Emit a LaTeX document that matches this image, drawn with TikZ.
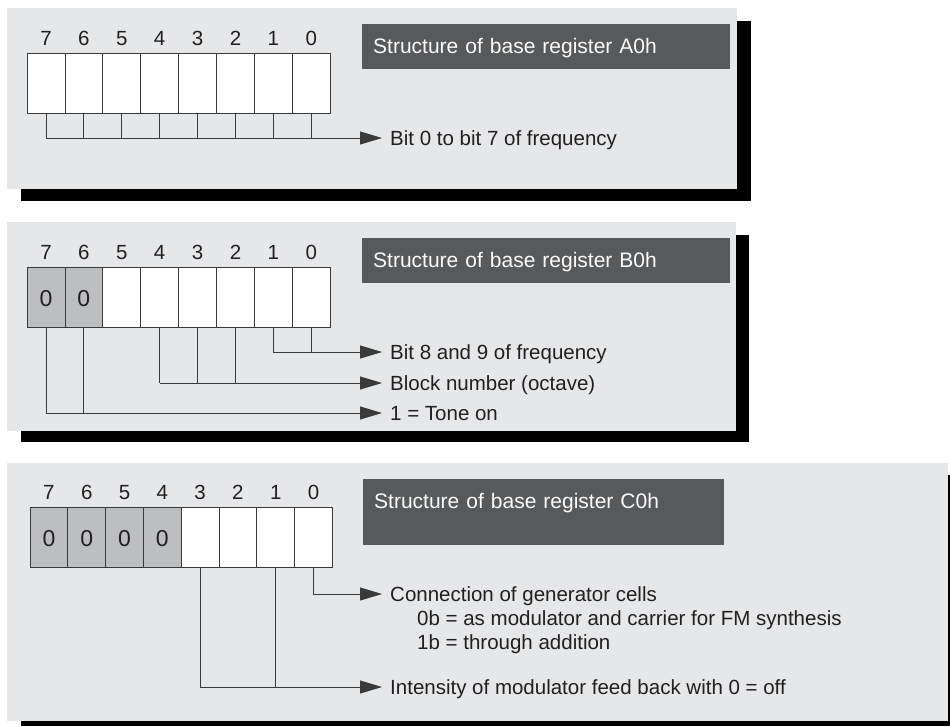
\documentclass[tikz,border=0pt]{standalone}
\usepackage{fontspec}
\setmainfont{Liberation Sans}
\usetikzlibrary{arrows.meta,positioning}
\definecolor{panel}{HTML}{E6E7E8}
\definecolor{titlebg}{HTML}{58595B}
\definecolor{zerocell}{HTML}{BCBEC0}
\definecolor{wiregray}{HTML}{3A3A3A}
\definecolor{ink}{HTML}{231F20}

\begin{document}
\begin{tikzpicture}[x=1pt, y=-1pt,
  font=\fontsize{20.5}{24}\selectfont, text=ink,
  regtitle/.style={fill=titlebg, text=white!85!panel, anchor=north west, inner xsep=11pt, inner ysep=0pt, align=left, text height=29pt, font=\fontsize{21}{25}\selectfont},
  cell/.style={draw=wiregray, line width=0.8pt, fill=white, anchor=north west, minimum width=37.9pt, minimum height=60pt, inner sep=0pt, outer sep=0pt},
  zero/.style={cell, fill=zerocell, font=\fontsize{23}{26}\selectfont, text height=19pt, text depth=0pt},
  bitno/.style={inner sep=0pt},
  lbl/.style={anchor=west, inner xsep=8pt, inner ysep=0pt, text height=15pt, text depth=0pt},
  wire/.style={draw=wiregray, line width=0.9pt},
  arr/.style={wire, -{Triangle[length=22pt, width=13pt]}}
]
  \useasboundingbox (0,0) rectangle (950,726);

  % Register A0h
  \fill[black] (21,21) rectangle (751,201);
  \fill[panel] (7,8) rectangle (737,189);
  \node[regtitle, text width=346pt, text depth=16pt] (titleA) at (362,24) {Structure of base register A0h};
  \foreach \b in {7,...,0} {
    \node[cell] (a\b) at ({27+(7-\b)*37.9}, 53) {};
    \node[bitno, above=7pt of a\b] {\b};
  }
  \node[lbl] (freqA) at (382,138) {Bit 0 to bit 7 of frequency};
  \foreach \b in {7,...,0}
    \draw[wire] (a\b.south) -- (a\b.south |- freqA.west);
  \draw[arr] (a7.south |- freqA.west) -- (freqA.west);

  % Register B0h
  \fill[black] (21,235) rectangle (749,442);
  \fill[panel] (7,222) rectangle (736,431);
  \node[regtitle, text width=346pt, text depth=16pt] (titleB) at (362,238) {Structure of base register B0h};
  \foreach \b/\kind/\v in {7/zero/0, 6/zero/0, 5/cell/{}, 4/cell/{}, 3/cell/{}, 2/cell/{}, 1/cell/{}, 0/cell/{}} {
    \node[\kind] (b\b) at ({27+(7-\b)*37.9}, 267) {\v};
    \node[bitno, above=7pt of b\b] {\b};
  }
  \node[lbl] (freqB) at (382,352) {Bit 8 and 9 of frequency};
  \node[lbl] (block) at (382,383) {Block number (octave)};
  \node[lbl] (tone) at (382,413) {1 = Tone on};
  \foreach \b in {1,0}
    \draw[wire] (b\b.south) -- (b\b.south |- freqB.west);
  \foreach \b in {4,3,2}
    \draw[wire] (b\b.south) -- (b\b.south |- block.west);
  \foreach \b in {7,6}
    \draw[wire] (b\b.south) -- (b\b.south |- tone.west);
  \draw[arr] (b1.south |- freqB.west) -- (freqB.west);
  \draw[arr] (b4.south |- block.west) -- (block.west);
  \draw[arr] (b7.south |- tone.west) -- (tone.west);

  % Register C0h
  \fill[black] (21,475) rectangle (950,726);
  \fill[panel] (7,463) rectangle (948,721);
  \node[regtitle, text width=339pt, text depth=37pt] (titleC) at (363,479) {Structure of base register C0h};
  \foreach \b/\kind/\v in {7/zero/0, 6/zero/0, 5/zero/0, 4/zero/0, 3/cell/{}, 2/cell/{}, 1/cell/{}, 0/cell/{}} {
    \node[\kind, minimum width=37.8pt] (c\b) at ({30+(7-\b)*37.8}, 507) {\v};
    \node[bitno, above=7pt of c\b] {\b};
  }
  \node[lbl] (conn) at (382,594) {Connection of generator cells};
  \node[lbl, inner xsep=0pt] (conn0b) at (417,618) {0b = as modulator and carrier for FM synthesis};
  \node[lbl, inner xsep=0pt] (conn1b) at (417,642) {1b = through addition};
  \node[lbl] (feed) at (382,687) {Intensity of modulator feed back with 0 = off};
  \draw[arr] (c0.south) |- (conn.west);
  \draw[wire] (c1.south) -- (c1.south |- feed.west);
  \draw[arr] (c3.south) |- (feed.west);
\end{tikzpicture}
\end{document}
